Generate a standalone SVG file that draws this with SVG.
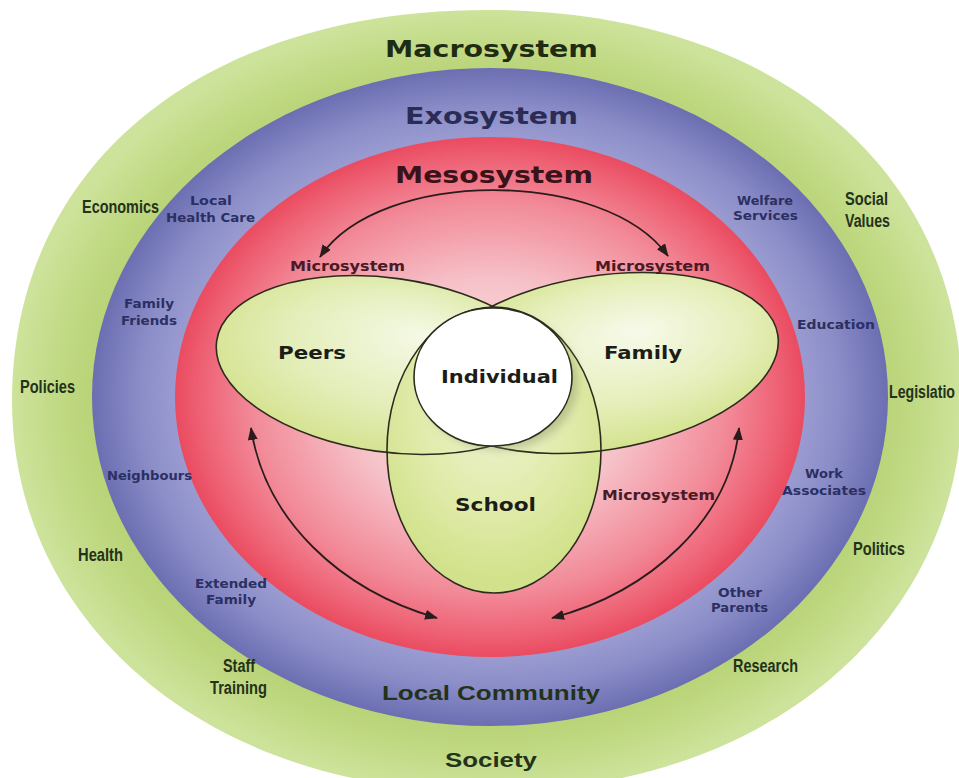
<svg xmlns="http://www.w3.org/2000/svg" width="959" height="778" viewBox="0 0 959 778">
  <style>
    .title { font-family: "DejaVu Sans", Verdana, sans-serif; font-weight: bold; font-size: 23px; }
    .outer { font-family: "Liberation Sans", Arial, sans-serif; font-weight: bold; font-size: 18px; fill: #24321a; }
    .ring { font-family: "DejaVu Sans", Verdana, sans-serif; font-weight: bold; font-size: 13px; fill: #2c2f62; }
    .micro { font-family: "DejaVu Sans", Verdana, sans-serif; font-weight: bold; font-size: 14px; fill: #4a1a26; }
    .node { font-family: "DejaVu Sans", Verdana, sans-serif; font-weight: bold; font-size: 18px; fill: #1d1d18; }
    .venn { stroke: #2d2a1e; stroke-width: 1.6; }
    .link { fill: none; stroke: #2a1c1c; stroke-width: 1.8; marker-start: url(#head); marker-end: url(#head); }
  </style>
  <defs>
    <radialGradient id="gGreen" cx="0.5" cy="0.5" r="0.5">
      <stop offset="0.78" stop-color="#b4cf70"/>
      <stop offset="0.9" stop-color="#c0d983"/>
      <stop offset="1" stop-color="#cde39b"/>
    </radialGradient>
    <radialGradient id="gBlue" cx="0.5" cy="0.5" r="0.5">
      <stop offset="0.77" stop-color="#9c9ed2"/>
      <stop offset="0.88" stop-color="#8b8dc8"/>
      <stop offset="1" stop-color="#6b6eb1"/>
    </radialGradient>
    <radialGradient id="gRed" cx="0.5" cy="0.5" r="0.5">
      <stop offset="0" stop-color="#fbe6e8"/>
      <stop offset="0.45" stop-color="#f6c2c9"/>
      <stop offset="0.75" stop-color="#f28b99"/>
      <stop offset="0.92" stop-color="#ee6174"/>
      <stop offset="1" stop-color="#ea4b60"/>
    </radialGradient>
    <radialGradient id="gLeaf" cx="0.55" cy="0.45" r="0.55" fx="0.62" fy="0.35">
      <stop offset="0" stop-color="#f7faea"/>
      <stop offset="0.6" stop-color="#e6efbc"/>
      <stop offset="1" stop-color="#d4e38f"/>
    </radialGradient>
    <radialGradient id="gLeafL" cx="0.5" cy="0.45" r="0.55" fx="0.6" fy="0.3">
      <stop offset="0" stop-color="#f5f9e6"/>
      <stop offset="0.6" stop-color="#e4eeba"/>
      <stop offset="1" stop-color="#d5e391"/>
    </radialGradient>
    <radialGradient id="gSchool" cx="0.5" cy="0.35" r="0.6">
      <stop offset="0" stop-color="#eef4d2"/>
      <stop offset="0.6" stop-color="#e0ebaa"/>
      <stop offset="1" stop-color="#d2e28c"/>
    </radialGradient>
    <filter id="soft" x="-20%" y="-20%" width="140%" height="140%">
      <feGaussianBlur stdDeviation="4"/>
    </filter>
    <marker id="head" viewBox="0 0 13 10" markerWidth="13" markerHeight="10" refX="12" refY="5" orient="auto-start-reverse" markerUnits="userSpaceOnUse">
      <path d="M0,0 L13,5 L0,10 Z" fill="#2a1c1c"/>
    </marker>
  </defs>

  <rect width="959" height="778" fill="#ffffff"/>

  <!-- nested system rings -->
  <g id="macrosystem">
    <path d="M487,10 C772,10 962,166 962,401 C962,617 774,792 487,792 C200,792 12,617 12,401 C12,166 202,10 487,10 Z" fill="url(#gGreen)"/>
  </g>
  <g id="exosystem">
    <ellipse cx="490" cy="397" rx="398" ry="329" fill="url(#gBlue)"/>
  </g>
  <g id="mesosystem">
    <ellipse cx="490" cy="397" rx="315" ry="260" fill="url(#gRed)"/>
  </g>

  <!-- microsystem fills -->
  <g id="peers">
    <ellipse cx="388" cy="365" rx="173" ry="87" transform="rotate(8 388 365)" fill="url(#gLeafL)"/>
  </g>
  <g id="family">
    <ellipse cx="600" cy="363" rx="180" ry="87" transform="rotate(-9 600 363)" fill="url(#gLeaf)"/>
  </g>
  <g id="school">
    <ellipse cx="494" cy="450" rx="107" ry="143" fill="url(#gSchool)"/>
  </g>

  <!-- microsystem outlines drawn over all fills -->
  <g id="venn-outlines" fill="none" class="venn">
    <ellipse cx="388" cy="365" rx="173" ry="87" transform="rotate(8 388 365)"/>
    <ellipse cx="600" cy="363" rx="180" ry="87" transform="rotate(-9 600 363)"/>
    <ellipse cx="494" cy="450" rx="107" ry="143"/>
  </g>

  <g id="individual">
    <ellipse cx="500" cy="383" rx="78" ry="67" fill="#7f8a5a" opacity="0.4" filter="url(#soft)"/>
    <ellipse cx="493" cy="377" rx="79" ry="69" fill="#ffffff" class="venn"/>
    <text class="node" x="441" y="383" textLength="117" lengthAdjust="spacingAndGlyphs">Individual</text>
  </g>

  <g id="peers-label"><text class="node" x="278" y="359" textLength="68" lengthAdjust="spacingAndGlyphs">Peers</text></g>
  <g id="family-label"><text class="node" x="604" y="359" textLength="78" lengthAdjust="spacingAndGlyphs">Family</text></g>
  <g id="school-label"><text class="node" x="455" y="511" textLength="81" lengthAdjust="spacingAndGlyphs">School</text></g>

  <!-- mesosystem links between microsystems -->
  <g id="connectors">
    <path class="link" d="M320,257 C380,168 605,168 668,256"/>
    <path class="link" d="M251,428 C265,520 340,590 437,618"/>
    <path class="link" d="M739,428 C730,520 650,592 552,618"/>
  </g>

  <!-- system titles -->
  <g id="titles">
    <text class="title" x="385" y="57" textLength="213" lengthAdjust="spacingAndGlyphs" fill="#1f2b13">Macrosystem</text>
    <text class="title" x="405" y="124" textLength="173" lengthAdjust="spacingAndGlyphs" fill="#2a2c56">Exosystem</text>
    <text class="title" x="395" y="183" textLength="198" lengthAdjust="spacingAndGlyphs" fill="#3a1219">Mesosystem</text>
    <text class="outer" x="382" y="700" textLength="218" lengthAdjust="spacingAndGlyphs" style="font-size:21px" fill="#2a2c56">Local Community</text>
    <text class="outer" x="445" y="767" textLength="92" lengthAdjust="spacingAndGlyphs" style="font-size:21px">Society</text>
  </g>

  <g id="micro-labels">
    <text class="micro" x="290" y="271" textLength="115" lengthAdjust="spacingAndGlyphs">Microsystem</text>
    <text class="micro" x="595" y="271" textLength="115" lengthAdjust="spacingAndGlyphs">Microsystem</text>
    <text class="micro" x="602" y="500" textLength="113" lengthAdjust="spacingAndGlyphs">Microsystem</text>
  </g>

  <!-- macrosystem factors -->
  <g id="macro-labels">
    <text class="outer" x="82" y="213" textLength="77" lengthAdjust="spacingAndGlyphs">Economics</text>
    <text class="outer" x="20" y="393" textLength="55" lengthAdjust="spacingAndGlyphs">Policies</text>
    <text class="outer" x="78" y="561" textLength="45" lengthAdjust="spacingAndGlyphs">Health</text>
    <text class="outer" x="223" y="672" textLength="32" lengthAdjust="spacingAndGlyphs">Staff</text>
    <text class="outer" x="210" y="694" textLength="57" lengthAdjust="spacingAndGlyphs">Training</text>
    <text class="outer" x="845" y="205" textLength="43" lengthAdjust="spacingAndGlyphs">Social</text>
    <text class="outer" x="845" y="227" textLength="45" lengthAdjust="spacingAndGlyphs">Values</text>
    <text class="outer" x="889" y="398" textLength="66" lengthAdjust="spacingAndGlyphs">Legislatio</text>
    <text class="outer" x="853" y="555" textLength="52" lengthAdjust="spacingAndGlyphs">Politics</text>
    <text class="outer" x="733" y="672" textLength="65" lengthAdjust="spacingAndGlyphs">Research</text>
  </g>

  <!-- exosystem settings -->
  <g id="exo-labels">
    <text class="ring" x="190" y="205" textLength="42" lengthAdjust="spacingAndGlyphs">Local</text>
    <text class="ring" x="166" y="222" textLength="89" lengthAdjust="spacingAndGlyphs">Health Care</text>
    <text class="ring" x="124" y="308" textLength="50" lengthAdjust="spacingAndGlyphs">Family</text>
    <text class="ring" x="121" y="325" textLength="56" lengthAdjust="spacingAndGlyphs">Friends</text>
    <text class="ring" x="107" y="480" textLength="85" lengthAdjust="spacingAndGlyphs">Neighbours</text>
    <text class="ring" x="195" y="588" textLength="72" lengthAdjust="spacingAndGlyphs">Extended</text>
    <text class="ring" x="206" y="604" textLength="50" lengthAdjust="spacingAndGlyphs">Family</text>
    <text class="ring" x="737" y="205" textLength="56" lengthAdjust="spacingAndGlyphs">Welfare</text>
    <text class="ring" x="733" y="220" textLength="65" lengthAdjust="spacingAndGlyphs">Services</text>
    <text class="ring" x="797" y="329" textLength="78" lengthAdjust="spacingAndGlyphs">Education</text>
    <text class="ring" x="805" y="478" textLength="38" lengthAdjust="spacingAndGlyphs">Work</text>
    <text class="ring" x="782" y="495" textLength="84" lengthAdjust="spacingAndGlyphs">Associates</text>
    <text class="ring" x="718" y="597" textLength="44" lengthAdjust="spacingAndGlyphs">Other</text>
    <text class="ring" x="711" y="612" textLength="57" lengthAdjust="spacingAndGlyphs">Parents</text>
  </g>
</svg>
